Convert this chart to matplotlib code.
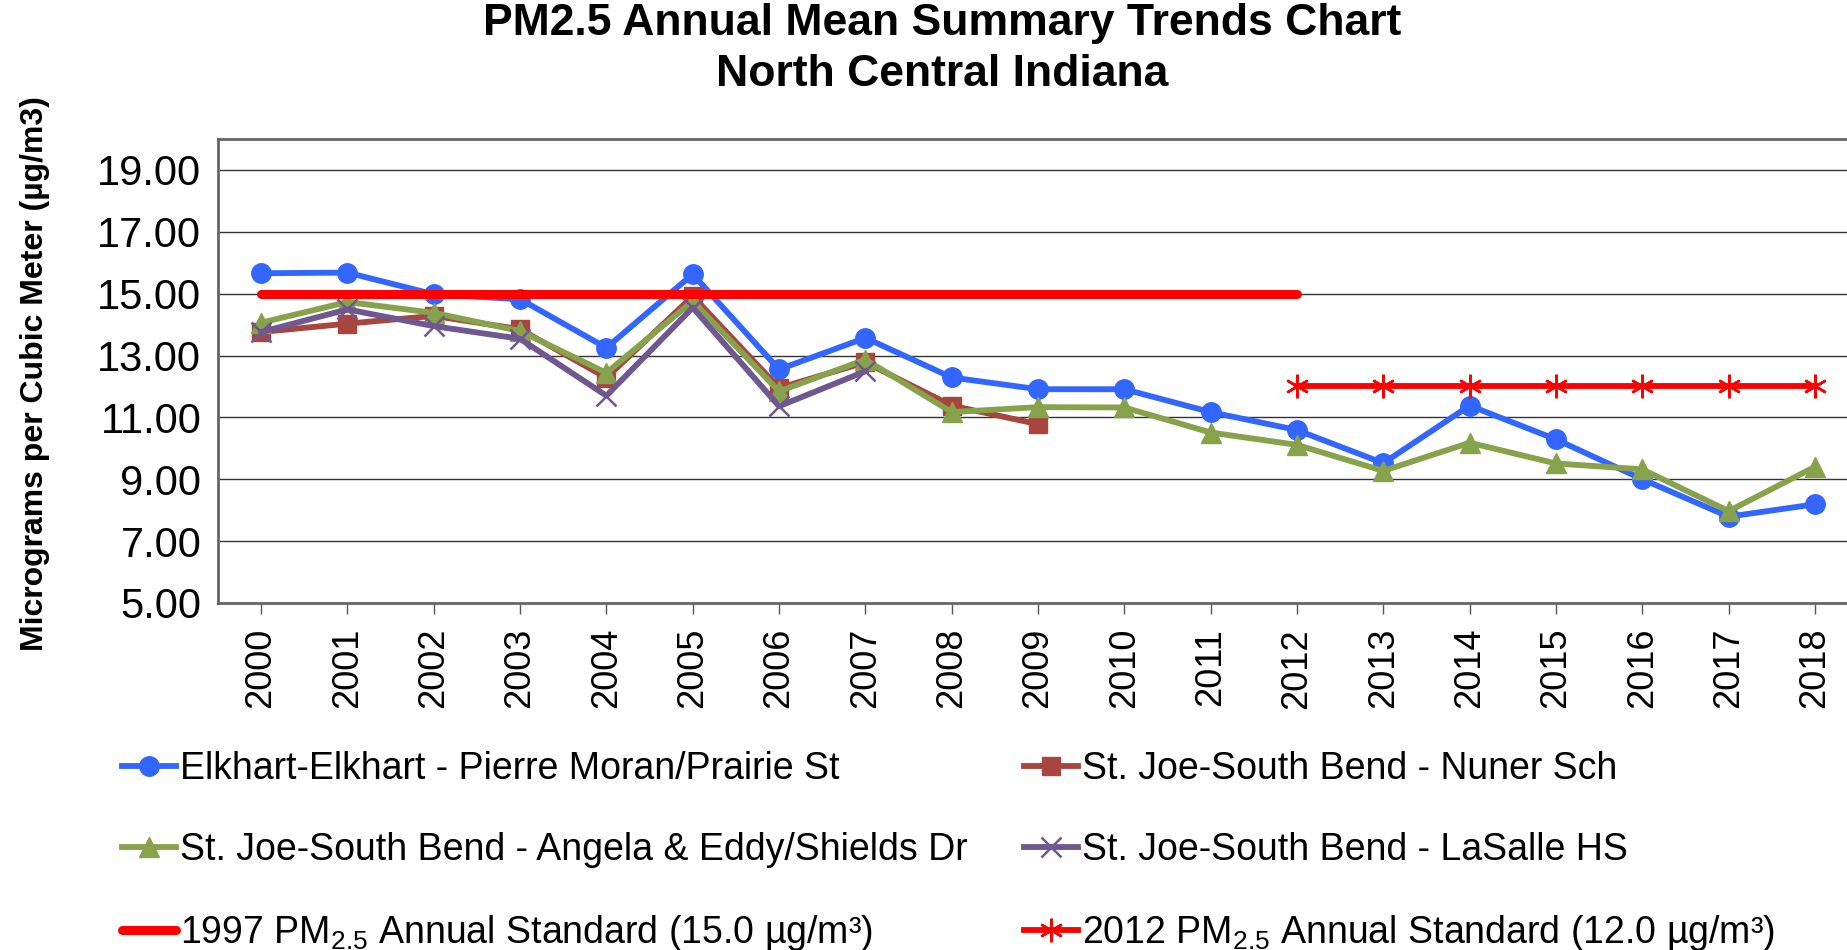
"""PM2.5 annual mean trends, North Central Indiana."""

import matplotlib

matplotlib.use("Agg")
import matplotlib.pyplot as plt
from matplotlib.ticker import FormatStrFormatter

plt.rcParams["font.family"] = ["Liberation Sans", "DejaVu Sans"]
plt.rcParams["mathtext.fontset"] = "custom"
plt.rcParams["mathtext.rm"] = "Liberation Sans"
plt.rcParams["mathtext.it"] = "Liberation Sans:italic"
plt.rcParams["mathtext.bf"] = "Liberation Sans:bold"

years = [str(y) for y in range(2000, 2019)]

elkhart = [15.66, 15.68, 14.98, 14.82, 13.25, 15.63, 12.55, 13.57, 12.29, 11.91,
           11.91, 11.17, 10.59, 9.52, 11.38, 10.29, 9.00, 7.79, 8.19]
nuner = [13.76, 14.03, 14.28, 13.85, 12.28, 14.92, 11.95, 12.78, 11.38, 10.78]
angela = [14.06, 14.73, 14.38, 13.79, 12.44, 14.76, 11.84, 12.87, 11.17, 11.33,
          11.32, 10.51, 10.11, 9.27, 10.18, 9.51, 9.32, 7.97, 9.40]
lasalle = [13.76, 14.49, 13.95, 13.54, 11.70, 14.55, 11.36, 12.49]

std_1997 = 15.0
std_1997_years = years[:13]       # 2000-2012
std_2012 = 12.0
std_2012_years = years[12:]       # 2012-2018

labels = [
    "Elkhart-Elkhart - Pierre Moran/Prairie St",
    "St. Joe-South Bend - Nuner Sch",
    "St. Joe-South Bend - Angela & Eddy/Shields Dr",
    "St. Joe-South Bend - LaSalle HS",
    r"1997 PM$_{\mathrm{2.5}}$ Annual Standard (15.0 µg/m³)",
    r"2012 PM$_{\mathrm{2.5}}$ Annual Standard (12.0 µg/m³)",
]

fig = plt.figure(figsize=(18.47, 9.5), dpi=100)
ax = fig.add_axes([0.118, 0.3653, 0.888, 0.4884])
x = list(range(len(years)))

h = []
h += ax.plot(x[:len(elkhart)], elkhart, color="#3366FF", lw=4.2, marker="o", ms=14,
             label=labels[0])
h += ax.plot(x[:len(nuner)], nuner, color="#A8453F", lw=4.2, marker="s", ms=13.5,
             label=labels[1])
h += ax.plot(x[:len(angela)], angela, color="#86A24A", lw=4.2, marker="^", ms=15,
             label=labels[2])
h += ax.plot(x[:len(lasalle)], lasalle, color="#6F5790", lw=4.2, marker="x", ms=15,
             mew=1.8, label=labels[3])
h += ax.plot(x[:len(std_1997_years)], [std_1997] * len(std_1997_years), color="#FF0000",
             lw=6.5, solid_capstyle="round", label=labels[4])
h += ax.plot(x[12:12 + len(std_2012_years)], [std_2012] * len(std_2012_years),
             color="#FF0000", lw=4.2, marker=(6, 2, 0), ms=17, mew=1.8, label=labels[5])

ax.set_xlim(-0.5, 18.5)
ax.set_ylim(5, 20)
ax.set_yticks([5, 7, 9, 11, 13, 15, 17, 19])
ax.yaxis.set_major_formatter(FormatStrFormatter("%.2f"))
ax.set_xticks(x)
ax.set_xticklabels(years, rotation=90)
ax.grid(axis="y", color="#333333", lw=1.0)
ax.set_axisbelow(True)
ax.tick_params(axis="y", length=0, pad=12, labelsize=30)
ax.tick_params(axis="x", length=8, width=1, color="#555555", pad=10, labelsize=26)
for side in ("left", "bottom", "top", "right"):
    ax.spines[side].set_color("#666666")
    ax.spines[side].set_linewidth(2)

fig.text(0.51, 1 - 24 / 950, "PM2.5 Annual Mean Summary Trends Chart",
         ha="center", va="center", fontsize=32, fontweight="bold")
fig.text(0.51, 1 - 74 / 950, "North Central Indiana",
         ha="center", va="center", fontsize=32, fontweight="bold")
fig.text(0.019, 1 - 374 / 950, "Micrograms per Cubic Meter (µg/m3)", rotation=90,
         ha="center", va="center", fontsize=23, fontweight="bold")

order = [0, 2, 4, 1, 3, 5]
fig.legend([h[i] for i in order], [labels[i] for i in order], ncol=2,
           loc="upper left", bbox_to_anchor=(0.066, 0.209), frameon=False,
           fontsize=27, handlelength=1.45, handletextpad=0.1, labelspacing=1.2,
           columnspacing=1.5, borderpad=0, borderaxespad=0)

fig.savefig("out.png", dpi=100)
